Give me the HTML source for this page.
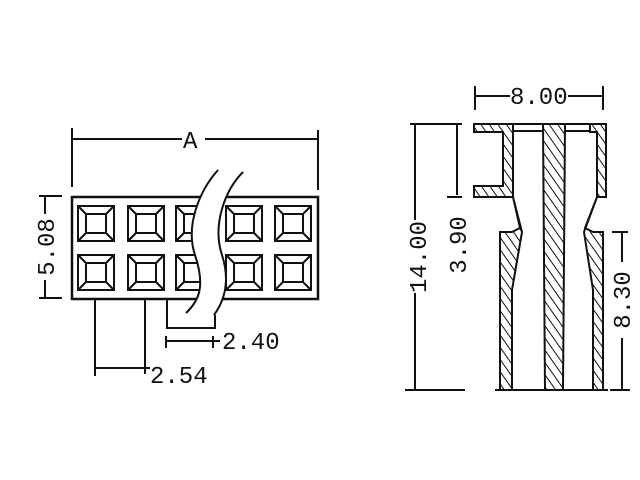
<!DOCTYPE html>
<html><head><meta charset="utf-8"><style>
html,body{margin:0;padding:0;background:#fff}
svg{display:block}
text{font-family:"Liberation Mono","DejaVu Sans Mono",monospace;font-size:24px;fill:#111}
</style></head><body>
<svg width="640" height="480" viewBox="0 0 640 480" xmlns="http://www.w3.org/2000/svg">
<defs>
<pattern id="h" width="7" height="7" patternUnits="userSpaceOnUse" patternTransform="rotate(-35)">
<rect width="7" height="7" fill="#fff"/><line x1="0" y1="0" x2="0" y2="7" stroke="#111" stroke-width="2"/>
</pattern>
<g id="sq">
<rect x="0" y="0" width="36" height="35"/>
<rect x="8" y="8" width="20" height="19"/>
<line x1="0" y1="0" x2="8" y2="8"/><line x1="36" y1="0" x2="28" y2="8"/>
<line x1="0" y1="35" x2="8" y2="27"/><line x1="36" y1="35" x2="28" y2="27"/>
</g>
</defs>
<g stroke="#111" stroke-width="2" fill="none">
<line x1="72" y1="128" x2="72" y2="187"/>
<line x1="318" y1="130" x2="318" y2="190"/>
<line x1="72" y1="139" x2="182" y2="139"/>
<line x1="205" y1="139" x2="318" y2="139"/>
<rect x="72" y="197" width="246" height="102" stroke-width="2.5"/>
<line x1="45" y1="195" x2="45" y2="214"/>
<line x1="45" y1="280" x2="45" y2="298"/>
<line x1="39" y1="196" x2="62" y2="196"/>
<line x1="39" y1="298" x2="62" y2="298"/>
</g>
<g stroke="#111" stroke-width="2" fill="#fff">
<use href="#sq" x="78" y="206"/><use href="#sq" x="128" y="206"/><use href="#sq" x="176" y="206"/><use href="#sq" x="226" y="206"/><use href="#sq" x="275" y="206"/>
<use href="#sq" x="78" y="255"/><use href="#sq" x="128" y="255"/><use href="#sq" x="176" y="255"/><use href="#sq" x="226" y="255"/><use href="#sq" x="275" y="255"/>
</g>
<path d="M218,170 C200,190 185,225 195,255 C205,285 200,300 186,313 L214,315 C225,300 230,280 222,255 C212,225 225,190 243,172 Z" fill="#fff" stroke="none"/>
<g stroke="#111" stroke-width="2" fill="none">
<path d="M218,170 C200,190 185,225 195,255 C205,285 200,300 186,313"/>
<path d="M243,172 C225,190 212,225 222,255 C230,280 225,300 214,315"/>
<line x1="95" y1="299" x2="95" y2="376"/>
<line x1="145" y1="299" x2="145" y2="374"/>
<line x1="95" y1="368" x2="150" y2="368"/>
<polyline points="167,299 167,328 215,328 215,315"/>
<line x1="166" y1="336" x2="166" y2="348"/>
<line x1="213" y1="336" x2="213" y2="348"/>
<line x1="166" y1="341" x2="220" y2="341"/>
</g>
<text x="150" y="383">2.54</text>
<text x="222" y="349">2.40</text>
<text x="183" y="148">A</text>
<text transform="translate(54,247) rotate(-90)" text-anchor="middle">5.08</text>

<g stroke="#111" stroke-width="2" fill="none">
<line x1="475" y1="86" x2="475" y2="110"/>
<line x1="603" y1="86" x2="603" y2="110"/>
<line x1="475" y1="96" x2="510" y2="96"/>
<line x1="568" y1="96" x2="603" y2="96"/>
<line x1="410" y1="124" x2="462" y2="124"/>
<line x1="415" y1="124" x2="415" y2="220"/>
<line x1="415" y1="293" x2="415" y2="390"/>
<line x1="405" y1="390" x2="465" y2="390"/>
<line x1="457" y1="124" x2="457" y2="195"/>
<line x1="447" y1="197" x2="462" y2="197"/>
<line x1="612" y1="232" x2="628" y2="232"/>
<line x1="622" y1="232" x2="622" y2="262"/>
<line x1="622" y1="338" x2="622" y2="390"/>
<line x1="610" y1="390" x2="630" y2="390"/>
</g>
<text x="510" y="104">8.00</text>
<text transform="translate(426,257) rotate(-90)" text-anchor="middle">14.00</text>
<text transform="translate(466,245) rotate(-90)" text-anchor="middle">3.90</text>
<text transform="translate(630,300) rotate(-90)" text-anchor="middle">8.30</text>
<g stroke="#111" stroke-width="2" fill="url(#h)">
<path d="M474,124 L513,124 L513,197 L474,197 L474,186 L503,186 L503,132 L474,132 Z"/>
<path d="M590,124 L606,124 L606,197 L597,197 L597,132 L590,132 Z"/>
<path d="M513,124 L590,124 L590,131 L513,131 Z" fill="#fff"/>
<path d="M543,124 L565,124 L563,390 L545,390 Z"/>
<path d="M500,232 L512,232 L520,228 L513,197 L522,232 L512,290 L512,390 L500,390 Z"/>
<path d="M603,232 L593,232 L585,228 L597,197 L584,232 L593,290 L593,390 L603,390 Z"/>
</g>
<g stroke="#111" stroke-width="2" fill="none">
<line x1="495" y1="390" x2="608" y2="390"/>
<line x1="474" y1="124" x2="606" y2="124"/>
</g>
</svg>
</body></html>
